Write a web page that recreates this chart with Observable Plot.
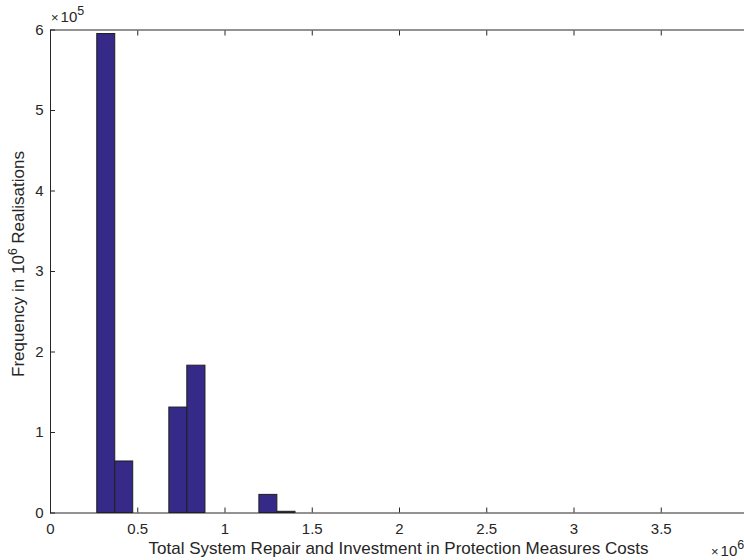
<!DOCTYPE html>
<html>
<head>
<meta charset="utf-8">
<script src="https://cdn.jsdelivr.net/npm/d3@7"></script>
<script src="https://cdn.jsdelivr.net/npm/@observablehq/plot@0.6"></script>
<style>
  html, body { margin: 0; padding: 0; background: #fff; overflow: hidden; }
  #chart { width: 744px; height: 560px; }
</style>
</head>
<body>
<div id="chart"></div>
<script>
// Histogram bins (x in units of 10^6, counts in units of 10^5)
const binLo  = [0.268, 0.371, 0.681, 0.784, 1.197, 1.300];
const binHi  = [0.371, 0.474, 0.784, 0.888, 1.300, 1.404];
const counts = [5.95, 0.64, 1.31, 1.83, 0.225, 0.015];

const xTicks = [0, 0.5, 1, 1.5, 2, 2.5, 3, 3.5, 4];
const yTicks = [0, 1, 2, 3, 4, 5, 6];

const xLabel = "Total System Repair and Investment in Protection Measures Costs";
const yLabelPre = "Frequency in 10";
const yLabelSup = "6";
const yLabelPost = " Realisations";

const bins = binLo.map((lo, i) => ({lo, hi: binHi[i], n: counts[i]}));

const ink = "#262626";
const fmt = d => `${d}`;

const plot = Plot.plot({
  width: 744,
  height: 560,
  marginLeft: 50,
  marginRight: -4,
  marginTop: 29.5,
  marginBottom: 47.5,
  style: {fontFamily: "'Liberation Sans', Arial, sans-serif", color: ink, background: "#fff"},
  x: {domain: [0, 4]},
  y: {domain: [0, 6]},
  marks: [
    Plot.rectY(bins, {x1: "lo", x2: "hi", y1: 0, y2: "n", fill: "#352a87", stroke: "#1f1f1f", strokeWidth: 1}),
    Plot.frame({stroke: ink, strokeWidth: 1}),
    // tick labels
    Plot.axisX(xTicks, {anchor: "bottom", tickSize: 0, tickPadding: 10, tickFormat: fmt, fill: ink, label: null}),
    Plot.axisY(yTicks, {anchor: "left", tickSize: 0, tickPadding: 7, tickFormat: fmt, fill: ink, label: null}),
    // inward ticks on all sides
    Plot.axisX(xTicks, {anchor: "bottom", tickSize: -5, tickFormat: () => "", stroke: ink, label: null}),
    Plot.axisX(xTicks, {anchor: "top", tickSize: -5, tickFormat: () => "", stroke: ink, label: null}),
    Plot.axisY(yTicks, {anchor: "left", tickSize: -5, tickFormat: () => "", stroke: ink, label: null}),
    Plot.axisY(yTicks, {anchor: "right", tickSize: -5, tickFormat: () => "", stroke: ink, label: null})
  ]
});

document.getElementById("chart").appendChild(plot);

const svg = d3.select(plot);
const font = "'Liberation Sans', Arial, sans-serif";

// enlarge tick labels drawn by Plot's axes
svg.selectAll("text").style("font-size", "15px");

// Labels with superscripts
svg.append("text")
  .attr("x", 398.5).attr("y", 554)
  .attr("text-anchor", "middle")
  .attr("font-family", font).attr("font-size", 17).attr("fill", ink)
  .text(xLabel);

const yl = svg.append("text")
  .attr("transform", "translate(24,264) rotate(-90)")
  .attr("text-anchor", "middle")
  .attr("font-family", font).attr("font-size", 17).attr("fill", ink);
yl.append("tspan").text(yLabelPre);
yl.append("tspan").attr("dy", -7).attr("font-size", 12).text(yLabelSup);
yl.append("tspan").attr("dy", 7).text(yLabelPost);

function expo(x, y, e) {
  const t = svg.append("text")
    .attr("x", x).attr("y", y)
    .attr("text-anchor", "start")
    .attr("font-family", font).attr("font-size", 15).attr("fill", ink);
  t.append("tspan").attr("font-size", 13).text("\u00d7");
  t.append("tspan").attr("dx", 2).text("10");
  t.append("tspan").attr("dy", -7).attr("font-size", 12.5).text(e);
}
expo(51, 22, "5");
expo(711, 556, "6");
</script>
</body>
</html>
